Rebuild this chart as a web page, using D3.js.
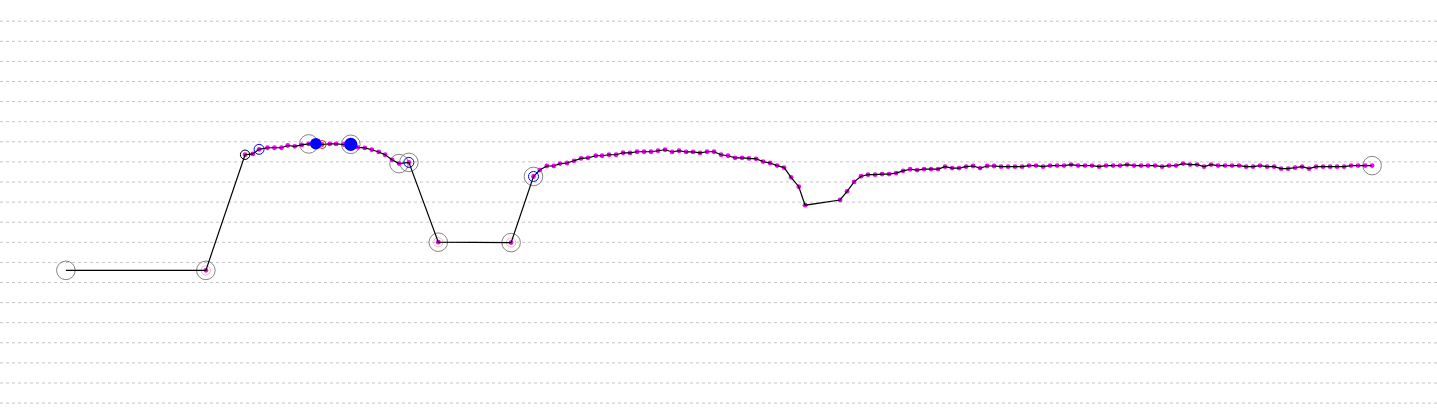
<!DOCTYPE html>
<html>
<head>
<meta charset="utf-8">
<script src="https://cdn.jsdelivr.net/npm/d3@7"></script>
<style>
  body { margin: 0; background: #fff; }
  .grid line { stroke: #c4c4c4; stroke-dasharray: 3,3; }
  .grid .domain, .grid text { display: none; }
</style>
</head>
<body>
<div id="chart"></div>
<script>
// readings (day, level)
const days = [
  0.3, 20.3, 25.9, 27.0, 27.9, 29.1, 30.1, 31.1, 32.0, 33.0,
  34.0, 35.0, 36.0, 36.9, 38.0, 38.9, 40.0, 41.0, 42.0, 43.0,
  44.0, 45.0, 45.9, 46.9, 47.9, 49.3, 53.5, 63.9, 67.1, 68.0,
  69.0, 70.0, 70.9, 71.9, 72.9, 73.9, 74.9, 76.0, 76.9, 77.9,
  78.9, 79.9, 80.9, 81.9, 82.9, 83.9, 84.9, 85.9, 86.9, 87.9,
  88.9, 89.9, 90.9, 91.9, 92.9, 93.9, 94.9, 95.9, 96.9, 97.9,
  98.9, 99.9, 100.9, 101.9, 102.9, 103.9, 105.0, 105.9, 110.9, 111.9,
  112.9, 113.9, 114.9, 115.9, 116.9, 117.9, 118.9, 119.9, 120.9, 121.9,
  122.9, 123.9, 124.9, 125.9, 126.9, 127.9, 128.9, 129.9, 130.9, 131.9,
  132.9, 133.9, 134.9, 135.9, 136.9, 137.9, 138.9, 139.9, 140.9, 141.9,
  142.9, 143.9, 144.9, 145.9, 146.9, 147.9, 148.9, 149.9, 150.9, 151.9,
  152.9, 153.9, 154.9, 155.9, 156.9, 157.9, 158.9, 159.9, 160.9, 161.9,
  162.9, 163.9, 164.9, 165.9, 166.9, 167.9, 168.9, 169.9, 170.9, 171.9,
  172.9, 173.9, 174.9, 175.9, 176.9, 177.9, 178.9, 179.9, 180.9, 181.9,
  182.9, 183.9, 184.9, 185.9, 186.9
];

const levels = [
  6.58, 6.58, 12.33, 12.37, 12.60, 12.68, 12.68, 12.68, 12.79, 12.75,
  12.82, 12.87, 12.88, 12.84, 12.87, 12.87, 12.84, 12.85, 12.70, 12.67,
  12.58, 12.47, 12.33, 12.08, 11.89, 11.95, 7.98, 7.96, 11.25, 11.57,
  11.77, 11.77, 11.89, 11.92, 12.03, 12.15, 12.18, 12.28, 12.28, 12.33,
  12.33, 12.43, 12.42, 12.48, 12.48, 12.48, 12.53, 12.58, 12.47, 12.53,
  12.47, 12.47, 12.42, 12.48, 12.48, 12.33, 12.28, 12.18, 12.18, 12.15,
  12.13, 11.99, 11.92, 11.79, 11.69, 11.21, 10.74, 9.82, 10.08, 10.51,
  10.98, 11.26, 11.34, 11.34, 11.37, 11.37, 11.42, 11.53, 11.61, 11.57,
  11.62, 11.62, 11.62, 11.74, 11.67, 11.67, 11.74, 11.77, 11.67, 11.77,
  11.77, 11.74, 11.74, 11.74, 11.74, 11.79, 11.79, 11.74, 11.79, 11.79,
  11.79, 11.84, 11.79, 11.79, 11.79, 11.74, 11.79, 11.79, 11.79, 11.84,
  11.79, 11.79, 11.79, 11.79, 11.74, 11.79, 11.79, 11.89, 11.84, 11.84,
  11.74, 11.84, 11.79, 11.79, 11.79, 11.79, 11.74, 11.74, 11.79, 11.74,
  11.74, 11.64, 11.64, 11.69, 11.74, 11.64, 11.74, 11.74, 11.74, 11.74,
  11.74, 11.79, 11.79, 11.79, 11.79
];

// days flagged with markers
const grayRingDays = [0.3, 20.3, 35.0, 41.0, 47.9, 49.3, 53.5, 63.9, 67.1, 186.9];
const pinkRingDays = [20.3, 53.5, 63.9];
const blackRingDays = [25.9];
const blueRingDays = [27.9, 49.3, 67.1];
const redRingDays = [36.9];
const blueDotDays = [36.0, 41.0];
const blueDotSizes = [5.8, 6.6];

const gridTicks = d3.range(0, 20);

let width = 1437,
    height = 413;

let svg = d3.select("#chart")
    .append("svg")
    .attr("width", width)
    .attr("height", height);

let x = d3.scaleLinear()
    .domain([-9.11, 196.17])
    .range([0, width]);

let y = d3.scaleLinear()
    .domain([0, 20])
    .range([402.6, 0.6]);

let data = days.map(function(d, i) {
    return {day: d, level: levels[i]};
});

function at(day) {
    return data.find(function(d) { return d.day === day; });
}

// dashed gridlines
svg.append("g")
    .attr("class", "grid")
    .call(d3.axisLeft(y)
        .tickValues(gridTicks)
        .tickSize(-width)
        .tickFormat(""));

function rings(list, r, color) {
    svg.append("g").selectAll("circle")
        .data(list.map(at))
        .enter().append("circle")
        .attr("cx", function(d) { return x(d.day); })
        .attr("cy", function(d) { return y(d.level); })
        .attr("r", r)
        .attr("fill", "none")
        .attr("stroke", color)
        .attr("stroke-width", 1);
}

rings(grayRingDays, 9.3, "#858585");
rings(pinkRingDays, 4.7, "#ffb8b8");

// magenta readings sit under the line
svg.append("g").selectAll("circle")
    .data(data.slice(1))
    .enter().append("circle")
    .attr("cx", function(d) { return x(d.day); })
    .attr("cy", function(d) { return y(d.level); })
    .attr("r", 2.4)
    .attr("fill", "#ff00ff");

let valueline = d3.line()
    .x(function(d) { return x(d.day); })
    .y(function(d) { return y(d.level); });

svg.append("path")
    .datum(data)
    .attr("fill", "none")
    .attr("stroke", "#000")
    .attr("stroke-width", 1.2)
    .attr("d", valueline);

rings(blackRingDays, 4.7, "#000");
rings(blueRingDays, 5, "#0000ff");
rings(redRingDays, 4, "#ff2000");

svg.append("g").selectAll("circle")
    .data(blueDotDays.map(at))
    .enter().append("circle")
    .attr("cx", function(d) { return x(d.day); })
    .attr("cy", function(d) { return y(d.level); })
    .attr("r", function(d, i) { return blueDotSizes[i]; })
    .attr("fill", "#0000ff");
</script>
</body>
</html>
